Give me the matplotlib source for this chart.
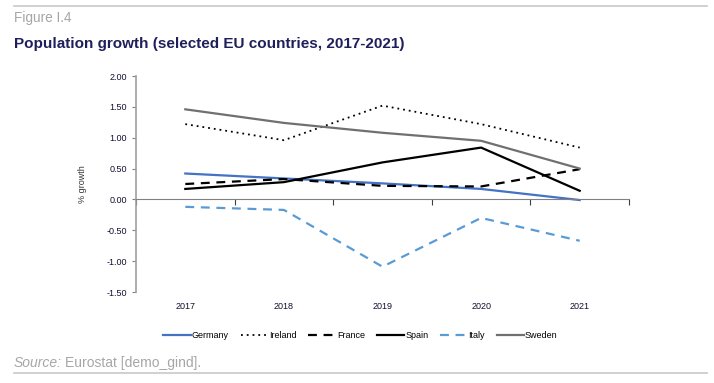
import matplotlib.pyplot as plt
import numpy as np
from matplotlib.lines import Line2D

plt.rcParams['font.family'] = ['Liberation Sans', 'DejaVu Sans']

years = ['2017', '2018', '2019', '2020', '2021']
germany = [0.42, 0.34, 0.26, 0.17, -0.01]
ireland = [1.22, 0.96, 1.52, 1.22, 0.84]
france = [0.25, 0.33, 0.22, 0.21, 0.49]
spain = [0.17, 0.28, 0.60, 0.84, 0.14]
italy = [-0.12, -0.17, -1.09, -0.30, -0.67]
sweden = [1.46, 1.24, 1.08, 0.95, 0.50]

fig = plt.figure(figsize=(7.14, 3.83), dpi=100)
ax = fig.add_axes([136/714, 1 - 292/383, (629-136)/714, (292-76)/383])

x = np.arange(len(years))
lw = 1.6
ax.plot(x, germany, color='#4472C4', lw=lw, label='Germany')
ax.plot(x, ireland, color='black', lw=1.3, ls=(0, (1, 2.2)), label='Ireland')
ax.plot(x, france, color='black', lw=lw, ls=(0, (4, 3)), label='France')
ax.plot(x, spain, color='black', lw=lw, label='Spain')
ax.plot(x, italy, color='#5B9BD5', lw=lw, ls=(0, (4, 3)), label='Italy')
ax.plot(x, sweden, color='#707070', lw=lw, label='Sweden')

ax.set_xlim(-0.5, 4.5)
ax.set_ylim(-1.5, 2.0)
ax.set_yticks(np.arange(-1.5, 2.01, 0.5))
ax.set_yticklabels([f'{v:.2f}' for v in np.arange(-1.5, 2.01, 0.5)],
                   fontsize=6.5, color='#111133')
ax.tick_params(axis='y', length=3, color='#808080', width=0.8)

# x axis sits at zero, ticks on category boundaries, labels below the plot
ax.spines['bottom'].set_position(('data', 0))
ax.spines['bottom'].set_color('#808080')
ax.spines['left'].set_color('#A0A0A0')
ax.spines['left'].set_linewidth(1.2)
ax.spines['top'].set_visible(False)
ax.spines['right'].set_visible(False)
ax.set_xticks(np.arange(-0.5, 4.6, 1))
ax.set_xticklabels([])
ax.tick_params(axis='x', length=4, color='#404040', width=0.8)
for i, yr in enumerate(years):
    ax.text(i, -0.045, yr, transform=ax.get_xaxis_transform(),
            ha='center', va='top', fontsize=6.5, color='#111133')

ax.set_ylabel('% growth', fontsize=6.5, color='#333333', labelpad=14)

fig.legend(loc='center', bbox_to_anchor=(0.505, 1 - 336/383), ncol=6,
           fontsize=6.5, frameon=False, handlelength=3.0, handletextpad=0.15,
           columnspacing=1.3)

fig.add_artist(Line2D([14/714, 707/714], [1 - 6/383, 1 - 6/383],
                      color='#C8C8C8', lw=1.2))
fig.add_artist(Line2D([14/714, 707/714], [1 - 373/383, 1 - 373/383],
                      color='#C8C8C8', lw=1.2))
fig.text(14/714, 1 - 18/383, 'Figure I.4', fontsize=9.8, color='#A6A6A6',
         va='center')
fig.text(14/714, 1 - 44/383, 'Population growth (selected EU countries, 2017-2021)',
         fontsize=11, fontweight='bold', color='#1F1F5C', va='center')

src = fig.text(14/714, 1 - 363/383, 'Source:', fontsize=10, color='#A6A6A6',
               style='italic', va='center')
r = fig.canvas.get_renderer()
bb = src.get_window_extent(renderer=r)
fig.text((bb.x1 + 3) / fig.bbox.width, 1 - 363/383, 'Eurostat [demo_gind].',
         fontsize=10, color='#A6A6A6', va='center')

fig.savefig('out.png', dpi=100)
